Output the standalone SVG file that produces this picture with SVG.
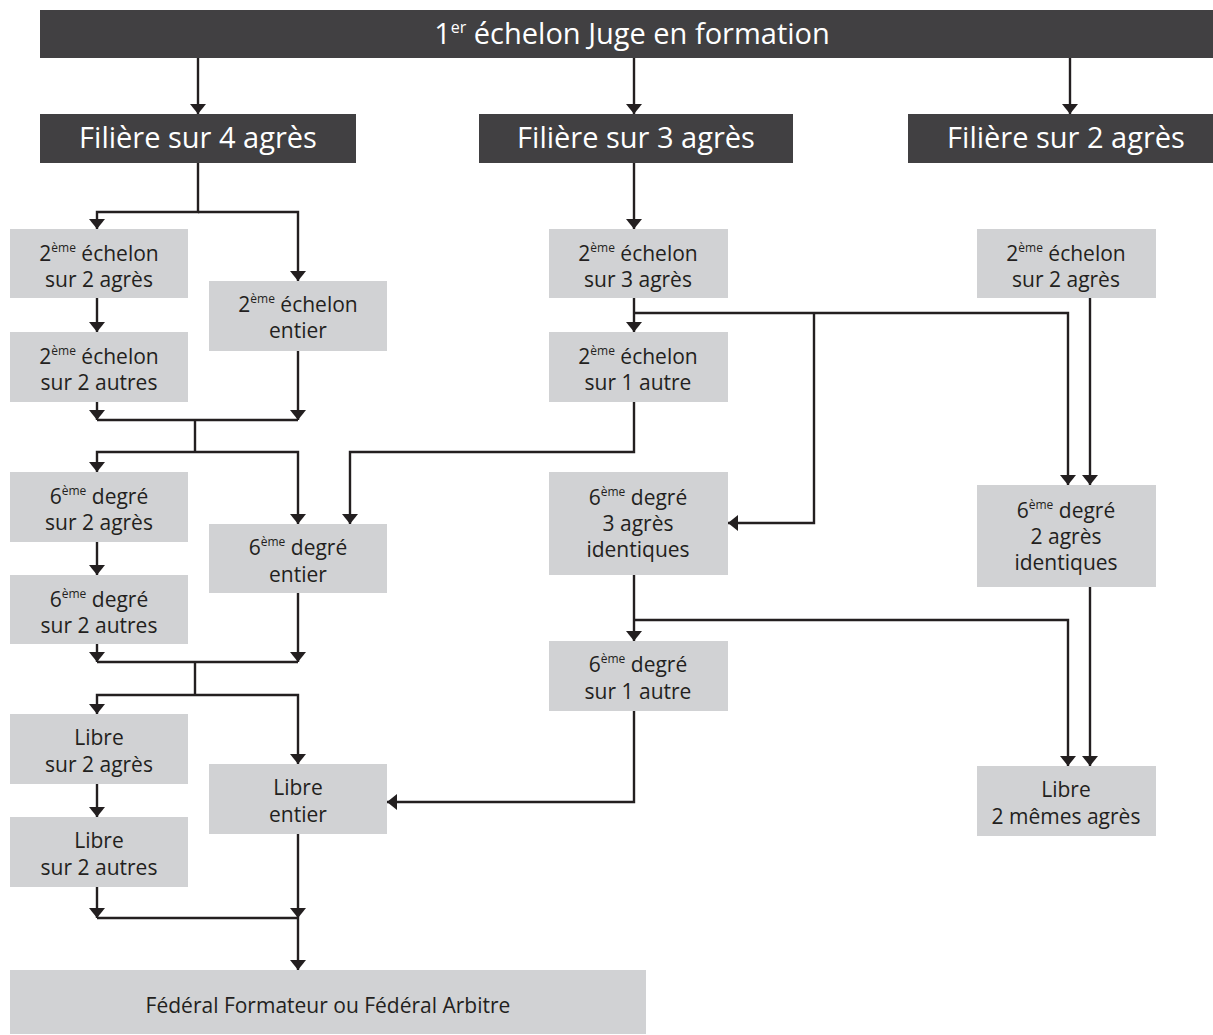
<svg xmlns="http://www.w3.org/2000/svg" width="1213" height="1035" viewBox="0 0 1213 1035">
<style>
.dark{fill:#414042}
.light{fill:#d1d2d4}
.th{font-family:"Open Sans","Liberation Sans",sans-serif;font-size:29px;fill:#ffffff;text-anchor:middle}
.t{font-family:"Open Sans","Liberation Sans",sans-serif;font-size:21px;fill:#231f20;text-anchor:middle}
.sup{font-size:12px}
.c{fill:none;stroke:#231f20;stroke-width:2.4}
</style>
<defs>
<marker id="ah" viewBox="-11 -9 12 18" refX="0" refY="0" markerWidth="12" markerHeight="18" markerUnits="userSpaceOnUse" orient="auto">
<path d="M-10,-8 L0,0 L-10,8 Z" fill="#231f20"/>
</marker>
</defs>
<rect width="1213" height="1035" fill="#ffffff"/>
<g id="connectors">
<path class="c" d="M198,58 V114" marker-end="url(#ah)"/>
<path class="c" d="M634,58 V114" marker-end="url(#ah)"/>
<path class="c" d="M1070,58 V114" marker-end="url(#ah)"/>
<path class="c" d="M198,163 V212 H97 V229" marker-end="url(#ah)"/>
<path class="c" d="M198,212 H298 V281" marker-end="url(#ah)"/>
<path class="c" d="M97,298 V332" marker-end="url(#ah)"/>
<path class="c" d="M97,402 V420" marker-end="url(#ah)"/>
<path class="c" d="M298,351 V420" marker-end="url(#ah)"/>
<path class="c" d="M97,420 H298 M195,420 V452"/>
<path class="c" d="M195,452 H97 V472" marker-end="url(#ah)"/>
<path class="c" d="M195,452 H298 V524" marker-end="url(#ah)"/>
<path class="c" d="M634,163 V229" marker-end="url(#ah)"/>
<path class="c" d="M634,298 V332" marker-end="url(#ah)"/>
<path class="c" d="M634,313 H1068 V485" marker-end="url(#ah)"/>
<path class="c" d="M814,313 V523 H728" marker-end="url(#ah)"/>
<path class="c" d="M1090,298 V485" marker-end="url(#ah)"/>
<path class="c" d="M634,402 V452 H350 V524" marker-end="url(#ah)"/>
<path class="c" d="M97,542 V575" marker-end="url(#ah)"/>
<path class="c" d="M97,644 V662" marker-end="url(#ah)"/>
<path class="c" d="M298,593 V662" marker-end="url(#ah)"/>
<path class="c" d="M97,662 H298 M195,662 V695"/>
<path class="c" d="M195,695 H97 V714" marker-end="url(#ah)"/>
<path class="c" d="M195,695 H298 V764" marker-end="url(#ah)"/>
<path class="c" d="M634,575 V641" marker-end="url(#ah)"/>
<path class="c" d="M634,620 H1068 V766" marker-end="url(#ah)"/>
<path class="c" d="M1090,587 V766" marker-end="url(#ah)"/>
<path class="c" d="M634,711 V802 H387" marker-end="url(#ah)"/>
<path class="c" d="M97,784 V817" marker-end="url(#ah)"/>
<path class="c" d="M97,887 V918" marker-end="url(#ah)"/>
<path class="c" d="M298,834 V918" marker-end="url(#ah)"/>
<path class="c" d="M97,918 H298"/>
<path class="c" d="M298,918 V970" marker-end="url(#ah)"/>
</g>
<g id="n-top"><rect class="dark" x="40" y="10" width="1173" height="48"/><text class="th" x="632" y="44">1<tspan font-size="16" dy="-11">er</tspan><tspan dy="11"> échelon Juge en formation</tspan></text></g>
<g id="n-f4"><rect class="dark" x="40" y="114" width="316" height="49"/><text class="th" x="198" y="148">Filière sur 4 agrès</text></g>
<g id="n-f3"><rect class="dark" x="479" y="114" width="314" height="49"/><text class="th" x="636" y="148">Filière sur 3 agrès</text></g>
<g id="n-f2"><rect class="dark" x="908" y="114" width="305" height="49"/><text class="th" x="1066" y="148">Filière sur 2 agrès</text></g>

<g id="n-e2a"><rect class="light" x="10" y="229" width="178" height="69"/><text class="t" x="99" y="261">2<tspan class="sup" dy="-9">ème</tspan><tspan dy="9"> échelon</tspan></text><text class="t" x="99" y="287">sur 2 agrès</text></g>
<g id="n-e2b"><rect class="light" x="10" y="332" width="178" height="70"/><text class="t" x="99" y="364">2<tspan class="sup" dy="-9">ème</tspan><tspan dy="9"> échelon</tspan></text><text class="t" x="99" y="390">sur 2 autres</text></g>
<g id="n-e2e"><rect class="light" x="209" y="281" width="178" height="70"/><text class="t" x="298" y="312">2<tspan class="sup" dy="-9">ème</tspan><tspan dy="9"> échelon</tspan></text><text class="t" x="298" y="338">entier</text></g>

<g id="n-d6a"><rect class="light" x="10" y="472" width="178" height="70"/><text class="t" x="99" y="504">6<tspan class="sup" dy="-9">ème</tspan><tspan dy="9"> degré</tspan></text><text class="t" x="99" y="530">sur 2 agrès</text></g>
<g id="n-d6b"><rect class="light" x="10" y="575" width="178" height="69"/><text class="t" x="99" y="607">6<tspan class="sup" dy="-9">ème</tspan><tspan dy="9"> degré</tspan></text><text class="t" x="99" y="633">sur 2 autres</text></g>
<g id="n-d6e"><rect class="light" x="209" y="524" width="178" height="69"/><text class="t" x="298" y="555">6<tspan class="sup" dy="-9">ème</tspan><tspan dy="9"> degré</tspan></text><text class="t" x="298" y="582">entier</text></g>

<g id="n-la"><rect class="light" x="10" y="714" width="178" height="70"/><text class="t" x="99" y="745">Libre</text><text class="t" x="99" y="772">sur 2 agrès</text></g>
<g id="n-lb"><rect class="light" x="10" y="817" width="178" height="70"/><text class="t" x="99" y="848">Libre</text><text class="t" x="99" y="875">sur 2 autres</text></g>
<g id="n-le"><rect class="light" x="209" y="764" width="178" height="70"/><text class="t" x="298" y="795">Libre</text><text class="t" x="298" y="822">entier</text></g>

<g id="n-e3"><rect class="light" x="549" y="229" width="179" height="69"/><text class="t" x="638" y="261">2<tspan class="sup" dy="-9">ème</tspan><tspan dy="9"> échelon</tspan></text><text class="t" x="638" y="287">sur 3 agrès</text></g>
<g id="n-e1"><rect class="light" x="549" y="332" width="179" height="70"/><text class="t" x="638" y="364">2<tspan class="sup" dy="-9">ème</tspan><tspan dy="9"> échelon</tspan></text><text class="t" x="638" y="390">sur 1 autre</text></g>
<g id="n-d3"><rect class="light" x="549" y="472" width="179" height="103"/><text class="t" x="638" y="505">6<tspan class="sup" dy="-9">ème</tspan><tspan dy="9"> degré</tspan></text><text class="t" x="638" y="531">3 agrès</text><text class="t" x="638" y="557">identiques</text></g>
<g id="n-d1"><rect class="light" x="549" y="641" width="179" height="70"/><text class="t" x="638" y="672">6<tspan class="sup" dy="-9">ème</tspan><tspan dy="9"> degré</tspan></text><text class="t" x="638" y="699">sur 1 autre</text></g>

<g id="n-e2r"><rect class="light" x="977" y="229" width="179" height="69"/><text class="t" x="1066" y="261">2<tspan class="sup" dy="-9">ème</tspan><tspan dy="9"> échelon</tspan></text><text class="t" x="1066" y="287">sur 2 agrès</text></g>
<g id="n-d2"><rect class="light" x="977" y="485" width="179" height="102"/><text class="t" x="1066" y="518">6<tspan class="sup" dy="-9">ème</tspan><tspan dy="9"> degré</tspan></text><text class="t" x="1066" y="544">2 agrès</text><text class="t" x="1066" y="570">identiques</text></g>
<g id="n-l2"><rect class="light" x="977" y="766" width="179" height="70"/><text class="t" x="1066" y="797">Libre</text><text class="t" x="1066" y="824">2 mêmes agrès</text></g>

<g id="n-fed"><rect class="light" x="10" y="970" width="636" height="64"/><text class="t" x="328" y="1013">Fédéral Formateur ou Fédéral Arbitre</text></g>
</svg>
